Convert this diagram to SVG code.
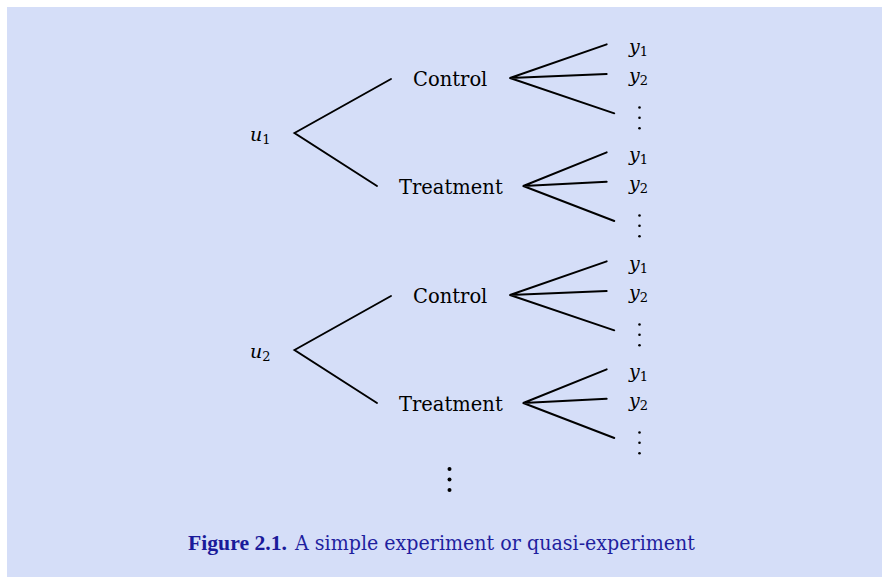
<svg xmlns="http://www.w3.org/2000/svg" width="882" height="577" viewBox="0 0 882 577">
<style>
.bg{fill:#d5def8}
.ln{stroke:#000;stroke-width:1.9;fill:none;stroke-linecap:round}
.t{font-family:"DejaVu Serif","Liberation Serif",serif;font-size:19.5px;fill:#000}
.m{font-family:"DejaVu Serif","Liberation Serif",serif;font-style:italic;font-size:19px;fill:#000}
.s{font-family:"DejaVu Serif","Liberation Serif",serif;font-size:13px;font-style:normal}
.cap{font-family:"DejaVu Serif","Liberation Serif",serif;font-size:19.5px;fill:#1f1f9f}
.capb{font-family:"Liberation Serif","DejaVu Serif",serif;font-size:21px;font-weight:bold;fill:#1a1a9a}
.d{fill:#000}
</style>
<defs>
<g id="leaves">
<text class="m" x="629" y="53">y<tspan class="s" dy="3">1</tspan></text>
<text class="m" x="629" y="82">y<tspan class="s" dy="3">2</tspan></text>
<circle class="d" cx="639.5" cy="107.5" r="1.3"/>
<circle class="d" cx="639.5" cy="117.8" r="1.3"/>
<circle class="d" cx="639.5" cy="128.2" r="1.3"/>
</g>
</defs>
<rect class="bg" x="7" y="7" width="875" height="570"/>
<g id="connectors">
<path class="ln" d="M391,79 L294.5,133 L377,186"/>
<path class="ln" d="M606.7,44.3 L510,78 L606.7,74 M510,78 L614.3,113.3"/>
<path class="ln" d="M606.7,152.3 L523.3,186 L606.7,181.7 M523.3,186 L614.3,221"/>
<path class="ln" d="M391,296 L294.5,350 L377,403"/>
<path class="ln" d="M606.7,261.3 L510,295 L606.7,291 M510,295 L614.3,330.3"/>
<path class="ln" d="M606.7,369.3 L523.3,403 L606.7,398.7 M523.3,403 L614.3,438"/>
</g>
<g id="u1"><text class="m" x="250" y="141">u<tspan class="s" dy="3">1</tspan></text></g>
<g id="control1"><text class="t" x="413" y="86">Control</text></g>
<g id="treatment1"><text class="t" x="399" y="194">Treatment</text></g>
<g id="leaves1"><use href="#leaves"/></g>
<g id="leaves2"><use href="#leaves" y="108"/></g>
<g id="u2"><text class="m" x="250" y="358">u<tspan class="s" dy="3">2</tspan></text></g>
<g id="control2"><text class="t" x="413" y="303">Control</text></g>
<g id="treatment2"><text class="t" x="399" y="411">Treatment</text></g>
<g id="leaves3"><use href="#leaves" y="217"/></g>
<g id="leaves4"><use href="#leaves" y="325"/></g>
<g id="more">
<circle class="d" cx="449.5" cy="469" r="2"/>
<circle class="d" cx="449.5" cy="479.5" r="2"/>
<circle class="d" cx="449.5" cy="490" r="2"/>
</g>
<g id="caption">
<text class="capb" x="188" y="550" textLength="99" lengthAdjust="spacingAndGlyphs">Figure 2.1.</text>
<text class="cap" x="295" y="550" textLength="400" lengthAdjust="spacingAndGlyphs">A simple experiment or quasi-experiment</text>
</g>
</svg>
